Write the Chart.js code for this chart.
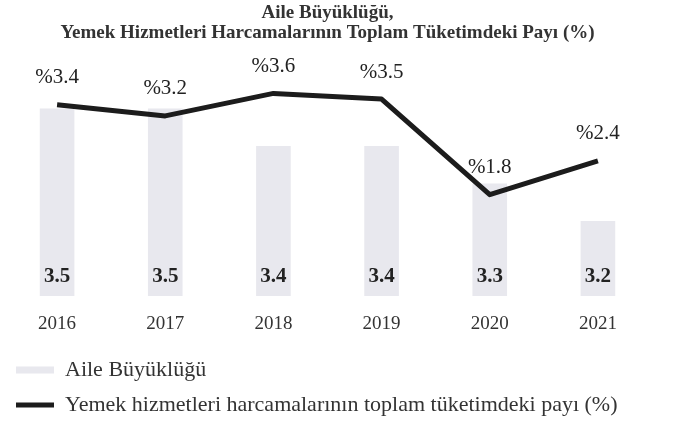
<!DOCTYPE html>
<html>
<head>
<meta charset="utf-8">
<script src="https://cdn.jsdelivr.net/npm/chart.js@4.4.0/dist/chart.umd.min.js"></script>
<style>
  html, body { margin: 0; padding: 0; background: #ffffff; }
  #wrap { width: 677px; height: 421px; }
</style>
</head>
<body>
<div id="wrap"><canvas id="c" width="677" height="421"></canvas></div>
<script>
const years = ['2016', '2017', '2018', '2019', '2020', '2021'];
const familySize = [3.5, 3.5, 3.4, 3.4, 3.3, 3.2];
const foodShare = [3.4, 3.2, 3.6, 3.5, 1.8, 2.4];
const titleLines = ['Aile Büyüklüğü,', 'Yemek Hizmetleri Harcamalarının Toplam Tüketimdeki Payı (%)'];
const seriesNames = ['Aile Büyüklüğü', 'Yemek hizmetleri harcamalarının toplam tüketimdeki payı (%)'];

const SERIF = "'Liberation Serif', 'Times New Roman', serif";

const valueLabels = {
  id: 'valueLabels',
  afterDatasetsDraw(chart) {
    const ctx = chart.ctx;
    const bottom = chart.chartArea.bottom;
    ctx.save();
    ctx.textAlign = 'center';
    ctx.textBaseline = 'middle';
    const barMeta = chart.getDatasetMeta(0);
    ctx.font = 'bold 21px ' + SERIF;
    ctx.fillStyle = '#222';
    barMeta.data.forEach((el, i) => {
      ctx.fillText(familySize[i].toFixed(1), el.x, bottom - 19);
    });
    const lineMeta = chart.getDatasetMeta(1);
    ctx.font = '21px ' + SERIF;
    ctx.fillStyle = '#222';
    lineMeta.data.forEach((el, i) => {
      ctx.fillText('%' + foodShare[i].toFixed(1), el.x, el.y - 27);
    });
    ctx.restore();
  }
};

new Chart(document.getElementById('c'), {
  data: {
    labels: years,
    datasets: [
      {
        type: 'bar',
        label: seriesNames[0],
        data: familySize,
        backgroundColor: '#e8e8ee',
        borderWidth: 0,
        yAxisID: 'yBar',
        order: 2,
        categoryPercentage: 1,
        barPercentage: 0.32,
        pointStyle: 'rect'
      },
      {
        type: 'line',
        label: seriesNames[1],
        data: foodShare,
        borderColor: '#1c1c1c',
        backgroundColor: '#1c1c1c',
        borderWidth: 5,
        pointRadius: 0,
        tension: 0,
        borderJoinStyle: 'round',
        yAxisID: 'yLine',
        order: 1,
        pointStyle: 'line'
      }
    ]
  },
  options: {
    responsive: false,
    animation: false,
    layout: { padding: { left: 3, right: 25, top: 0, bottom: -5 } },
    scales: {
      x: {
        offset: true,
        grid: { display: false, drawTicks: false },
        border: { display: false },
        ticks: { color: '#333', font: { family: SERIF, size: 19 }, padding: 17 },
        afterFit(s) { s.height = 50; }
      },
      yBar: { display: false, min: 3.0, max: 3.6 },
      yLine: { display: false, min: 0, max: 4 }
    },
    plugins: {
      title: {
        display: true,
        text: titleLines,
        color: '#333',
        font: { family: SERIF, size: 19, weight: 'bold', lineHeight: 1.05 },
        padding: { top: 3, bottom: 28 }
      },
      legend: {
        display: true,
        position: 'bottom',
        align: 'start',
        labels: {
          usePointStyle: true,
          pointStyleWidth: 38,
          boxHeight: 7,
          padding: 13,
          color: '#333',
          font: { family: SERIF, size: 22 },
          sort: (a, b) => a.datasetIndex - b.datasetIndex
        }
      },
      tooltip: { enabled: false }
    }
  },
  plugins: [valueLabels]
});
</script>
</body>
</html>
